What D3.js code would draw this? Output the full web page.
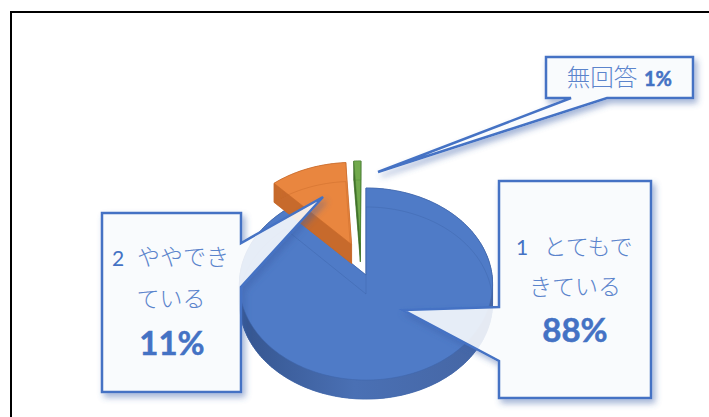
<!DOCTYPE html>
<html lang="ja">
<head>
<meta charset="utf-8">
<script src="https://cdn.jsdelivr.net/npm/d3@7"></script>
<style>
html,body{margin:0;padding:0;background:#fff;overflow:hidden}
svg{display:block}
text{fill:#4472c4;text-anchor:middle}
.jp{font-family:"Noto Sans CJK JP","Noto Sans",sans-serif;font-weight:300;font-size:23px;fill:#5b84cc}
.num{font-family:Lato,"Noto Sans",sans-serif;font-size:21px}
.pct{font-family:Lato,"Noto Sans",sans-serif;font-weight:700;stroke:#4472c4;stroke-width:0.5px}
</style>
</head>
<body>
<svg id="c" width="709" height="417" viewBox="0 0 709 417"></svg>
<script>
// ---- data ----
const categories = ["1 とてもできている", "2 ややできている", "無回答"];
const values = [88, 11, 1];
const pctLabels = ["88%", "11%", "1%"];
const numberLabels = ["1", "2", ""];
const line1Labels = ["とてもで", "ややでき", "無回答"];
const line2Labels = ["きている", "ている", ""];
// ---- styles ----
const topColors = ["#4f7bc7", "#e9863f", "#71a94c"];
const wallColors = ["url(#wallBlue)", "#c76a2c", "#3f6b2a"];
const edgeColors = ["#3f66ab", "#c8692a", "#4f8a35"];

const svg = d3.select("#c");
const W = 709, H = 417;
const cx = 366, cy = 275, Rx = 126, Ry = 95.2, k = 0.094, wall = 19;
const explode = [0, 0.36, 0.35];
const nudge = [0, 0.025, -0.035];

const defs = svg.append("defs");
const g = defs.append("linearGradient").attr("id", "wallBlue")
  .attr("gradientUnits", "userSpaceOnUse")
  .attr("x1", 240).attr("x2", 495).attr("y1", 0).attr("y2", 0);
g.append("stop").attr("offset", "0%").attr("stop-color", "#35558f");
g.append("stop").attr("offset", "45%").attr("stop-color", "#4a70b4");
g.append("stop").attr("offset", "100%").attr("stop-color", "#4565a3");
const f = defs.append("filter").attr("id", "shadow")
  .attr("x", "-20%").attr("y", "-20%").attr("width", "140%").attr("height", "140%");
f.append("feGaussianBlur").attr("in", "SourceAlpha").attr("stdDeviation", 3).attr("result", "b");
f.append("feOffset").attr("in", "b").attr("dx", 3).attr("dy", 4).attr("result", "o");
f.append("feFlood").attr("flood-color", "#3b5fa8").attr("flood-opacity", 0.5).attr("result", "c");
f.append("feComposite").attr("in", "c").attr("in2", "o").attr("operator", "in").attr("result", "s");
f.append("feComposite").attr("in", "s").attr("in2", "SourceAlpha").attr("operator", "out").attr("result", "s2");
const m = f.append("feMerge");
m.append("feMergeNode").attr("in", "s2");
m.append("feMergeNode").attr("in", "SourceGraphic");

svg.append("rect").attr("width", W).attr("height", H).attr("fill", "#fff");
svg.append("rect").attr("x", 11).attr("y", 12).attr("width", 800).attr("height", 600)
  .attr("fill", "none").attr("stroke", "#000").attr("stroke-width", 2);

const pie = d3.pie().sort(null).startAngle(0).endAngle(2 * Math.PI);
const arcs = pie(values);
const line = d3.line().curve(d3.curveLinearClosed);

// ground plane to screen, with a slight perspective
function project(u, v, dy) {
  const s = 1 / (1 + k * v);
  return [cx + Rx * u * s, cy - Ry * v * s + dy];
}
function slicePts(a, i, dy) {
  const mid = (a.startAngle + a.endAngle) / 2;
  const ou = explode[i] * Math.sin(mid) + nudge[i];
  const ov = explode[i] * Math.cos(mid);
  const n = Math.max(4, Math.ceil((a.endAngle - a.startAngle) * 40));
  const pts = [project(ou, ov, dy)];
  d3.range(n + 1).forEach(j => {
    const t = a.startAngle + (a.endAngle - a.startAngle) * j / n;
    pts.push(project(ou + Math.sin(t), ov + Math.cos(t), dy));
  });
  return pts;
}
arcs.forEach((a, i) => {
  const lower = slicePts(a, i, wall), upper = slicePts(a, i, 0);
  // side wall: the lower outline plus each quad up to the upper outline
  svg.append("path").attr("d", line(lower)).attr("fill", wallColors[i]);
  upper.forEach((p, j) => {
    const nx = (j + 1) % upper.length;
    svg.append("path").attr("d", line([p, upper[nx], lower[nx], lower[j]]))
      .attr("fill", wallColors[i]).attr("stroke", wallColors[i]).attr("stroke-width", 0.5);
  });
  svg.append("path").attr("d", line(upper)).attr("fill", topColors[i])
    .attr("stroke", edgeColors[i]).attr("stroke-width", 0.6);
  svg.append("path").attr("d", line(lower)).attr("fill", "none")
    .attr("stroke", edgeColors[i]).attr("stroke-width", 0.8).attr("stroke-opacity", 0.55);
});

// callouts
function callout(pts) {
  svg.append("path").attr("d", line(pts))
    .attr("fill", "#f8fafd").attr("fill-opacity", 0.89)
    .attr("stroke", "#4472c4").attr("stroke-width", 2.5)
    .attr("stroke-linejoin", "miter").attr("filter", "url(#shadow)");
}
callout([[499,181],[651,181],[651,398],[499,398],[499,361],[403,310],[499,307]]);
callout([[102,213],[241,213],[241,243],[323,197],[241,287],[241,392],[102,392]]);
callout([[546,57],[693,57],[693,98],[607,98],[378,172],[571,98],[546,98]]);

function txt(x, y, s, cls, size, anchor) {
  const t = svg.append("text").attr("x", x).attr("y", y).attr("class", cls).text(s);
  if (size) t.style("font-size", size + "px");
  if (anchor) t.style("text-anchor", anchor);
}
// 88%
txt(522, 255, numberLabels[0], "num");
txt(588, 255, line1Labels[0], "jp");
txt(575, 295, line2Labels[0], "jp");
txt(575, 342, pctLabels[0], "pct", 33);
// 11%
txt(118, 266, numberLabels[1], "num");
txt(183, 265, line1Labels[1], "jp");
txt(171, 307, line2Labels[1], "jp");
txt(172, 355, pctLabels[1], "pct", 33);
// 1%
txt(602, 86, line1Labels[2], "jp", 23.5);
txt(658, 86, pctLabels[2], "pct", 20);
</script>
</body>
</html>
